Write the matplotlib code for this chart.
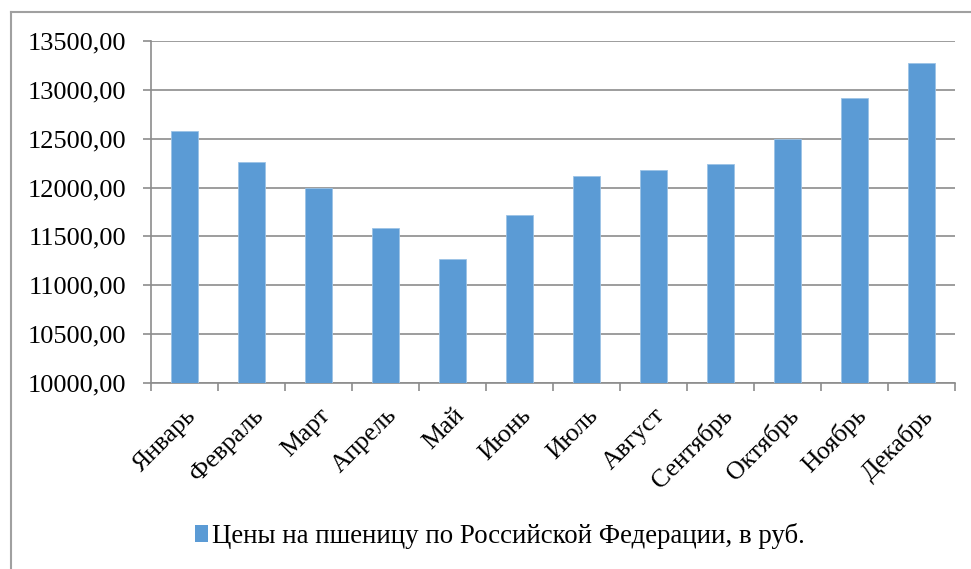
import matplotlib
matplotlib.use("Agg")
import matplotlib.pyplot as plt
import matplotlib.transforms as mtransforms
from matplotlib.lines import Line2D
from matplotlib.patches import Patch
from matplotlib.ticker import FuncFormatter, MultipleLocator
import numpy as np

months = ["Январь", "Февраль", "Март", "Апрель", "Май", "Июнь",
          "Июль", "Август", "Сентябрь", "Октябрь", "Ноябрь", "Декабрь"]
prices = [12575, 12264, 11995, 11582, 11270, 11716,
          12123, 12178, 12240, 12500, 12921, 13274]
series_name = "Цены на пшеницу по Российской Федерации, в руб."

plt.rcParams['font.family'] = ['Liberation Serif', 'DejaVu Serif']

W, H = 971, 569
fig = plt.figure(figsize=(W / 100, H / 100), dpi=100)
ax = fig.add_axes([151 / W, 1 - 383 / H, (955 - 151) / W, (383 - 41) / H])

bar_color = '#5B9BD5'
grid_color = '#8c8c8c'
x = np.arange(len(months))
ax.bar(x, np.array(prices) - 10000, bottom=10000, width=0.4, color=bar_color,
       edgecolor='#9cc3e6', linewidth=0.6, zorder=3)

ax.set_xlim(-0.5, len(months) - 0.5)
ax.set_ylim(10000, 13500)
ax.yaxis.set_major_locator(MultipleLocator(500))
ax.yaxis.set_major_formatter(FuncFormatter(lambda v, p: f"{v:.2f}".replace('.', ',')))
ax.grid(axis='y', color=grid_color, linewidth=1.2, zorder=0)
ax.set_axisbelow(True)

for s in ['top', 'right']:
    ax.spines[s].set_visible(False)
for s in ['left', 'bottom']:
    ax.spines[s].set_color(grid_color)
    ax.spines[s].set_linewidth(1.2)

ax.tick_params(axis='y', length=6, width=1.2, color=grid_color, pad=12,
               labelcolor='black', labelsize=19)

# boundary ticks
ax.set_xticks(np.arange(-0.5, len(months)), minor=False)
ax.set_xticklabels([''] * (len(months) + 1))
ax.tick_params(axis='x', which='major', length=6, width=1.2, color=grid_color)
# labels at centres
ax.set_xticks(x, minor=True)
ax.set_xticklabels(months, minor=True, rotation=45, ha='right', va='center',
                   rotation_mode='anchor', fontsize=18.5)
ax.tick_params(axis='x', which='minor', length=0, pad=21)
offset = mtransforms.ScaledTranslation(8 / 100, 0, fig.dpi_scale_trans)
for lab in ax.get_xticklabels(minor=True):
    lab.set_transform(lab.get_transform() + offset)

handle = Patch(facecolor=bar_color, edgecolor='none')
fig.legend([handle], [series_name], loc='center', bbox_to_anchor=(500 / W, 1 - 536 / H),
           frameon=False, fontsize=19.4, handlelength=0.5, handleheight=0.55,
           handletextpad=0.15, borderaxespad=0)

# outer chart border (left and top visible)
border_color = '#a0a0a0'
fig.add_artist(Line2D([11 / W, 11 / W], [0, 1 - 12 / H], transform=fig.transFigure,
                      color=border_color, linewidth=1.5))
fig.add_artist(Line2D([11 / W, 1], [1 - 12 / H, 1 - 12 / H], transform=fig.transFigure,
                      color=border_color, linewidth=1.5))

fig.savefig("out.png", dpi=100)
